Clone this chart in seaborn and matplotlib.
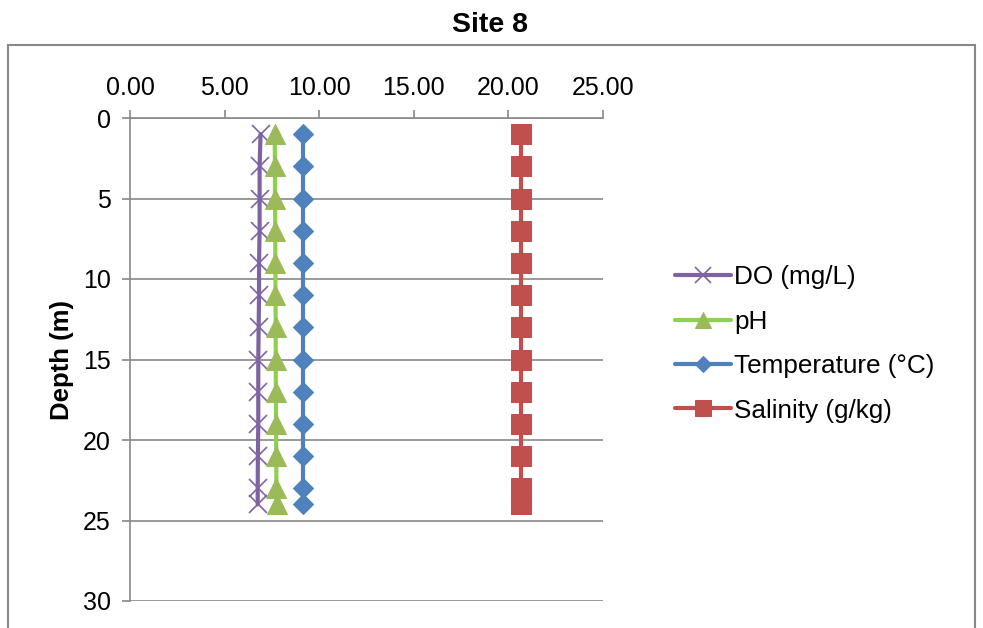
import numpy as np
import pandas as pd
import matplotlib
matplotlib.use("Agg")
import matplotlib.pyplot as plt
import seaborn as sns
from matplotlib.patches import Rectangle
from matplotlib.ticker import FormatStrFormatter

# data
depth = [1, 3, 5, 7, 9, 11, 13, 15, 17, 19, 21, 23, 24]
do_mgl = [6.90, 6.85, 6.85, 6.85, 6.82, 6.82, 6.80, 6.78, 6.78, 6.78, 6.76, 6.75, 6.75]
ph = [7.65, 7.66, 7.66, 7.68, 7.68, 7.69, 7.70, 7.70, 7.71, 7.72, 7.73, 7.74, 7.75]
temp_c = [9.15, 9.15, 9.15, 9.15, 9.15, 9.15, 9.15, 9.15, 9.15, 9.15, 9.15, 9.15, 9.15]
salinity = [20.67, 20.67, 20.67, 20.67, 20.67, 20.67, 20.67, 20.67, 20.67, 20.67, 20.67, 20.67, 20.67]

x_ticks = [0, 5, 10, 15, 20, 25]
y_ticks = [0, 5, 10, 15, 20, 25, 30]

sns.set_style("white")
plt.rcParams["font.family"] = ["Liberation Sans", "DejaVu Sans"]
plt.rcParams["text.color"] = "black"
plt.rcParams["axes.labelcolor"] = "black"
plt.rcParams["xtick.labelcolor"] = "black"
plt.rcParams["ytick.labelcolor"] = "black"

fig = plt.figure(figsize=(9.83, 6.28), dpi=100)
ax = fig.add_axes([130 / 983, 1 - 601 / 628, 473 / 983, 483 / 628])

# outer chart border (runs off the bottom like the reference)
fig.patches.append(Rectangle((8 / 983, -0.05), 967 / 983, 1.05 - 45 / 628,
                             transform=fig.transFigure, fill=False,
                             edgecolor="#888888", linewidth=1.5))

sns.lineplot(x=do_mgl, y=depth, orient="y", sort=False, ax=ax, color="#7F62A2",
             linewidth=3, marker="x", markersize=13, markeredgewidth=1.2,
             markeredgecolor="#8064A2", label="DO (mg/L)")
sns.lineplot(x=ph, y=depth, orient="y", sort=False, ax=ax, color="#8ED14F",
             linewidth=3, marker="^", markersize=14, markerfacecolor="#9BBB59",
             markeredgecolor="#9BBB59", label="pH")
sns.lineplot(x=temp_c, y=depth, orient="y", sort=False, ax=ax, color="#4F81BD",
             linewidth=3, marker="D", markersize=10, markeredgecolor="#4F81BD",
             label="Temperature (°C)")
sns.lineplot(x=salinity, y=depth, orient="y", sort=False, ax=ax, color="#C0504D",
             linewidth=3, marker="s", markersize=14, markeredgecolor="#C0504D",
             label="Salinity (g/kg)")

ax.set_xlim(0, 25)
ax.set_ylim(30, 0)
ax.set_xticks(x_ticks)
ax.set_yticks(y_ticks)
ax.xaxis.set_major_formatter(FormatStrFormatter("%.2f"))
ax.xaxis.tick_top()
ax.tick_params(axis="x", top=True, bottom=False, direction="out", length=6,
               width=1.2, color="#888888", labelsize=18, pad=7)
ax.tick_params(axis="y", left=True, direction="out", length=6, width=1.2,
               color="#888888", labelsize=18, pad=8)
ax.set_xlabel("")
ax.set_ylabel("Depth (m)", fontsize=18.5, fontweight="bold", labelpad=6)

ax.grid(axis="y", color="#888888", linewidth=1.2)
ax.grid(axis="x", visible=False)
for side in ["right", "bottom"]:
    ax.spines[side].set_visible(False)
for side in ["left", "top"]:
    ax.spines[side].set_color("#888888")
    ax.spines[side].set_linewidth(1.2)

fig.suptitle("Site 8", x=490 / 983, y=1 - 25 / 628, va="center",
             fontsize=20.5, fontweight="bold")

leg = ax.legend(loc="center left", bbox_to_anchor=(675 / 983, 1 - 344 / 628),
                bbox_transform=fig.transFigure, frameon=False, fontsize=18.8,
                handlelength=2.15, handletextpad=0.12, labelspacing=0.78,
                borderpad=0, borderaxespad=0, numpoints=1, markerscale=0.85)

fig.savefig("out.png", dpi=100)
